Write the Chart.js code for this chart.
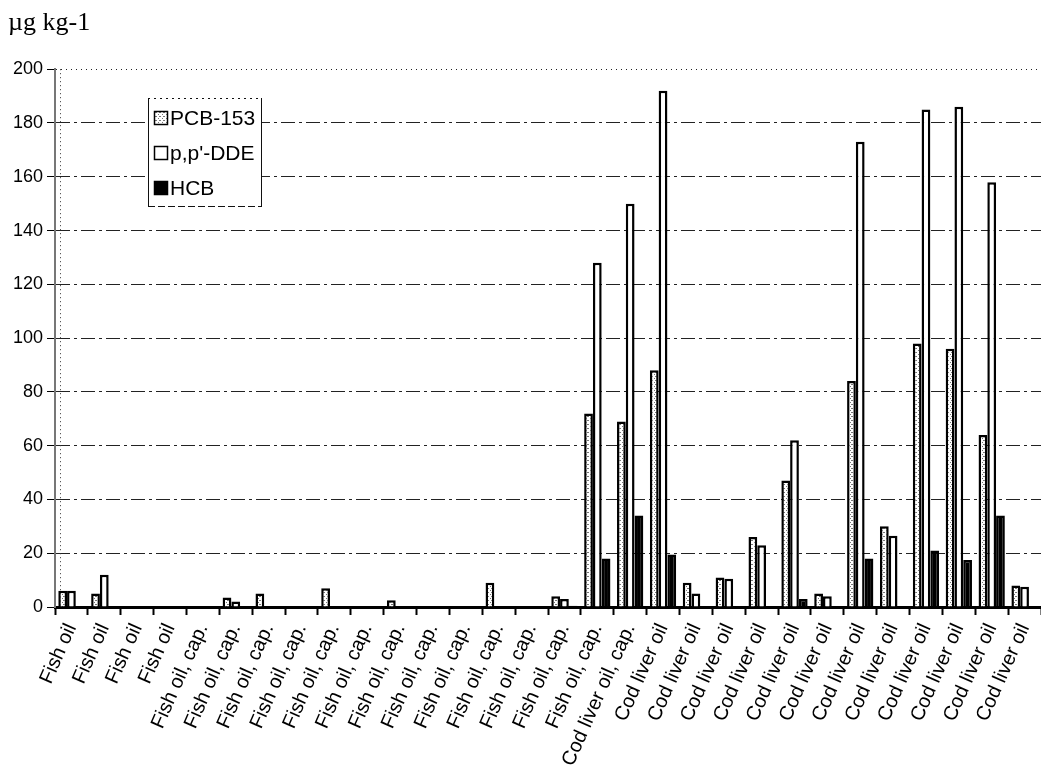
<!DOCTYPE html>
<html>
<head>
<meta charset="utf-8">
<script src="https://cdn.jsdelivr.net/npm/chart.js@4.4.0/dist/chart.umd.min.js"></script>
<style>
  html, body { margin: 0; padding: 0; background: #fff; }
</style>
</head>
<body>
<canvas id="chart" width="1041" height="782"></canvas>
<script>
// ── Datos ─────────────────────────────────────────────────────
const categories = [
    'Fish oil', 'Fish oil', 'Fish oil', 'Fish oil',
    'Fish oil, cap.', 'Fish oil, cap.', 'Fish oil, cap.', 'Fish oil, cap.', 'Fish oil, cap.',
    'Fish oil, cap.', 'Fish oil, cap.', 'Fish oil, cap.', 'Fish oil, cap.', 'Fish oil, cap.',
    'Fish oil, cap.', 'Fish oil, cap.', 'Fish oil, cap.',
    'Cod liver oil, cap.',
    'Cod liver oil', 'Cod liver oil', 'Cod liver oil', 'Cod liver oil', 'Cod liver oil', 'Cod liver oil',
    'Cod liver oil', 'Cod liver oil', 'Cod liver oil', 'Cod liver oil', 'Cod liver oil', 'Cod liver oil'
];
const pcb153 = [6, 5, 0, 0, 0, 3.5, 5, 0, 7, 0, 2.5, 0, 0, 9, 0, 4, 72, 69, 88, 9, 11, 26, 47, 5, 84, 30, 98, 96, 64, 8];
const ppDDE  = [6, 12, 0, 0, 0, 2, 0, 0, 0, 0, 0, 0, 0, 0, 0, 3, 128, 150, 192, 5, 10.5, 23, 62, 4, 173, 26.5, 185, 186, 158, 7.5];
const hcb    = [0, 0, 0, 0, 0, 0, 0, 0, 0, 0, 0, 0, 0, 0, 0, 0.5, 18, 34, 19.5, 0, 0, 0, 3, 0, 18, 0, 21, 17.5, 34, 0];
const yTicks = [0, 20, 40, 60, 80, 100, 120, 140, 160, 180, 200];
const seriesNames = ['PCB-153', "p,p'-DDE", 'HCB'];
const unitLabel = 'µg kg-1';

// ── Trama punteada para PCB-153 ──────────────────────────────
function stipple() {
    const c = document.createElement('canvas');
    c.width = 4; c.height = 4;
    const g = c.getContext('2d');
    g.fillStyle = '#fff'; g.fillRect(0, 0, 4, 4);
    g.fillStyle = '#777';
    g.fillRect(0, 0, 1, 1); g.fillRect(2, 2, 1, 1); g.fillRect(3, 0, 1, 1);
    return g.createPattern(c, 'repeat');
}
const pcbFill = stipple();

// ── Leyenda interior y línea punteada ────────────────────────
const decor = {
    id: 'decor',
    beforeDatasetsDraw(chart) {
        const { ctx, chartArea: a } = chart;
        ctx.save();
        ctx.strokeStyle = '#333'; ctx.lineWidth = 1;
        ctx.setLineDash([1, 3]);
        ctx.beginPath();
        ctx.moveTo(a.left + 5.5, a.top); ctx.lineTo(a.left + 5.5, a.bottom);
        ctx.stroke();
        ctx.restore();
    },
    afterDraw(chart) {
        const { ctx } = chart;
        const x = 148, y = 98, w = 114, h = 109;
        ctx.save();
        ctx.fillStyle = '#fff';
        ctx.fillRect(x, y, w, h);
        ctx.strokeStyle = '#111'; ctx.lineWidth = 1;
        ctx.setLineDash([2, 4]);
        ctx.beginPath(); ctx.moveTo(x, y + 0.5); ctx.lineTo(x + w, y + 0.5); ctx.stroke();
        ctx.setLineDash([7, 3]);
        ctx.beginPath(); ctx.moveTo(x, y + h - 0.5); ctx.lineTo(x + w, y + h - 0.5); ctx.stroke();
        ctx.setLineDash([]);
        ctx.beginPath();
        ctx.moveTo(x + 0.5, y); ctx.lineTo(x + 0.5, y + h);
        ctx.moveTo(x + w - 0.5, y); ctx.lineTo(x + w - 0.5, y + h);
        ctx.stroke();
        const fills = [pcbFill, '#fff', '#000'];
        ctx.font = '21px "Liberation Sans", Arial, sans-serif';
        ctx.textBaseline = 'middle';
        seriesNames.forEach((name, i) => {
            const cy = y + 20 + i * 35;
            ctx.fillStyle = fills[i];
            ctx.fillRect(154, cy - 7, 14, 14);
            ctx.strokeStyle = '#000'; ctx.lineWidth = 1.5;
            ctx.strokeRect(154.5, cy - 6.5, 13, 13);
            ctx.fillStyle = '#000';
            ctx.fillText(name, 170, cy + 1);
        });
        ctx.restore();
    }
};

// ── Gráfico de barras ─────────────────────────────────────────
const barStyle = { borderColor: '#000', borderWidth: 2.5, categoryPercentage: 0.8, barPercentage: 1 };
new Chart(document.getElementById('chart').getContext('2d'), {
    type: 'bar',
    data: {
        labels: categories,
        datasets: [
            { label: seriesNames[0], data: pcb153, backgroundColor: pcbFill, ...barStyle },
            { label: seriesNames[1], data: ppDDE, backgroundColor: '#fff', ...barStyle },
            { label: seriesNames[2], data: hcb, backgroundColor: '#000', ...barStyle }
        ]
    },
    options: {
        responsive: false, animation: false,
        layout: { padding: { top: 8, left: 8, right: 0, bottom: 0 } },
        plugins: {
            legend: { display: false },
            tooltip: { enabled: false },
            title: {
                display: true, text: unitLabel, align: 'start', color: '#000',
                font: { family: '"Liberation Serif", "Times New Roman", serif', size: 26, weight: 'normal' },
                padding: { top: 0, bottom: 30 }
            }
        },
        scales: {
            x: {
                grid: { display: true, drawOnChartArea: false, tickLength: 8, tickColor: '#000', tickWidth: 2 },
                border: { color: '#000', width: 3 },
                ticks: {
                    autoSkip: false, minRotation: 66, maxRotation: 66, color: '#000', padding: 5,
                    font: { family: '"Liberation Sans", Arial, sans-serif', size: 20 }
                },
                afterFit: s => { s.height = 175; s.paddingLeft = 0; s.paddingRight = 0; }
            },
            y: {
                min: 0, max: 200,
                afterBuildTicks: s => { s.ticks = yTicks.map(v => ({ value: v })); },
                grid: {
                    color: '#222', lineWidth: 1, tickLength: 8, tickColor: '#000', tickBorderDash: []
                },
                border: {
                    color: '#777', width: 2,
                    dash: ctx => (ctx.tick && ctx.tick.value === 200) ? [1, 4] : [14, 4, 3, 4]
                },
                ticks: {
                    color: '#000', padding: 4,
                    font: { family: '"Liberation Sans", Arial, sans-serif', size: 18 }
                },
                afterFit: s => { s.width = 47; }
            }
        }
    },
    plugins: [decor]
});
</script>
</body>
</html>
